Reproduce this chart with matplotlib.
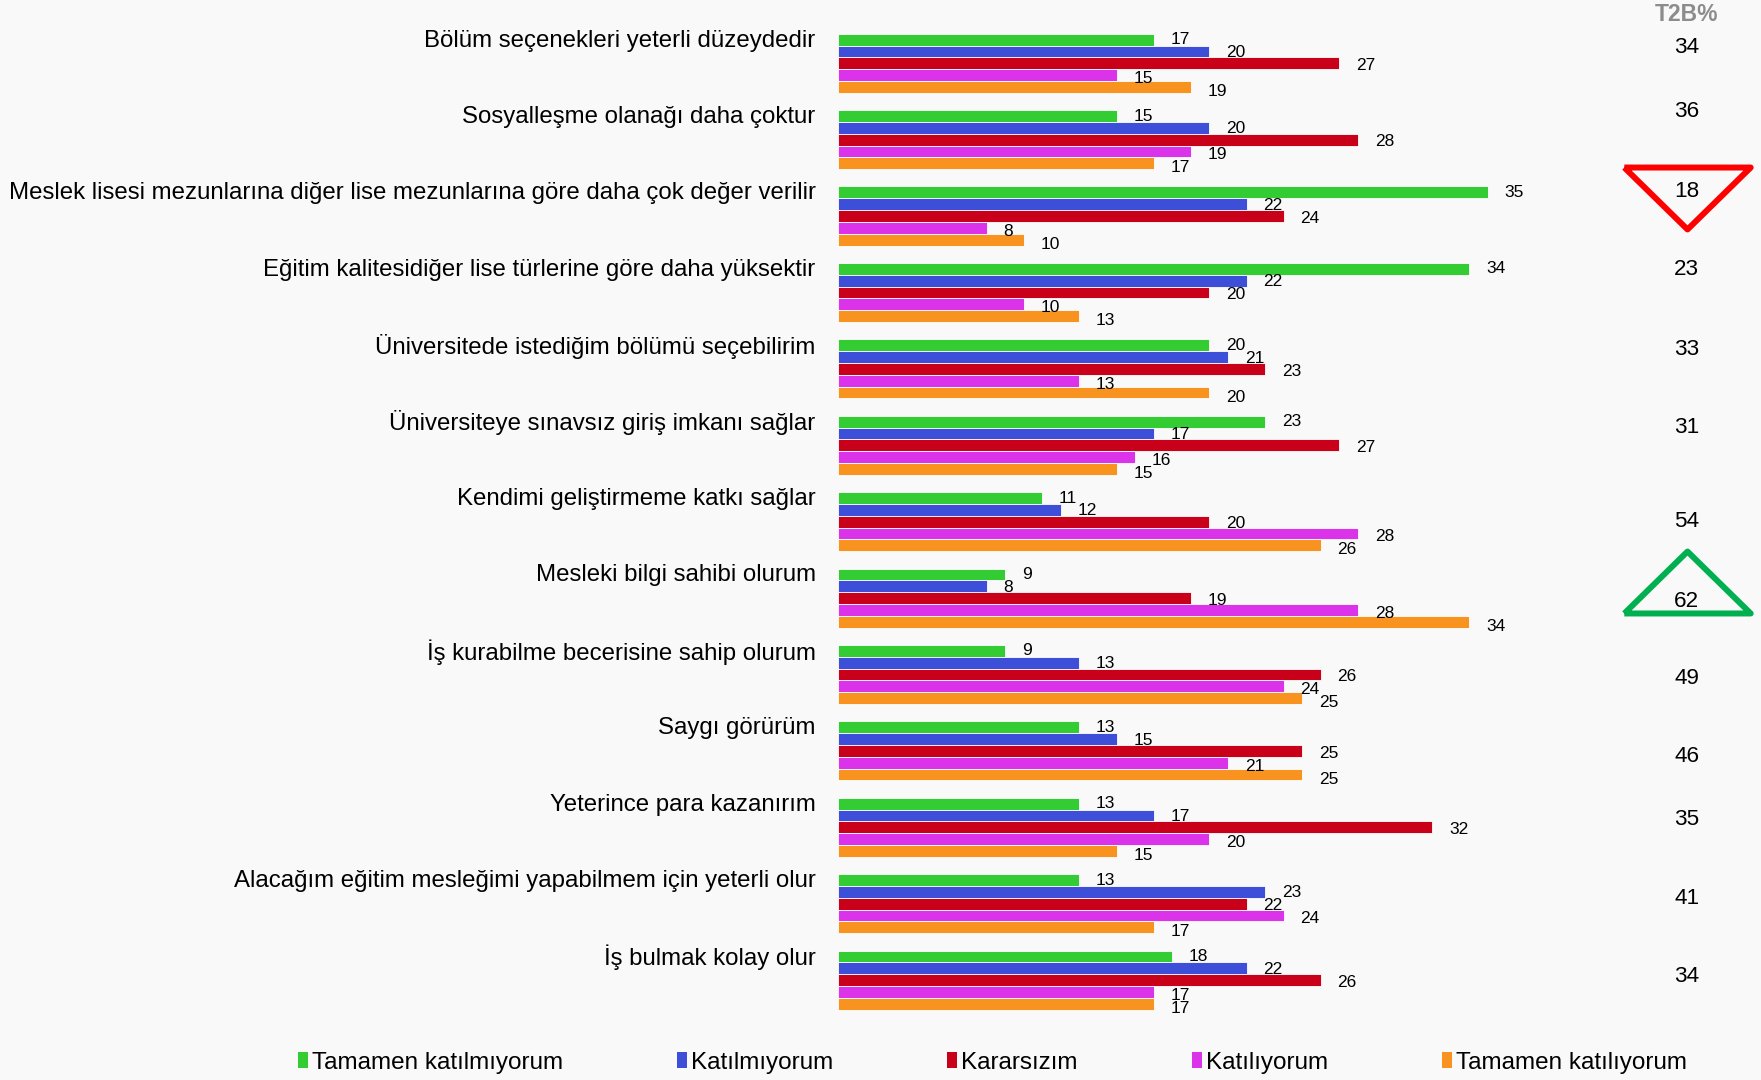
import matplotlib
matplotlib.use("Agg")
import matplotlib.pyplot as plt
from matplotlib.markers import MarkerStyle
from matplotlib.patches import Patch
import numpy as np

plt.rcParams['font.family'] = ['Liberation Sans', 'DejaVu Sans']

# data
categories = [
    "Bölüm seçenekleri yeterli düzeydedir",
    "Sosyalleşme olanağı daha çoktur",
    "Meslek lisesi mezunlarına diğer lise mezunlarına göre daha çok değer verilir",
    "Eğitim kalitesidiğer lise türlerine göre daha yüksektir",
    "Üniversitede istediğim bölümü seçebilirim",
    "Üniversiteye sınavsız giriş imkanı sağlar",
    "Kendimi geliştirmeme katkı sağlar",
    "Mesleki bilgi sahibi olurum",
    "İş kurabilme becerisine sahip olurum",
    "Saygı görürüm",
    "Yeterince para kazanırım",
    "Alacağım eğitim mesleğimi yapabilmem için yeterli olur",
    "İş bulmak kolay olur",
]
series_names = ["Tamamen katılmıyorum", "Katılmıyorum", "Kararsızım",
                "Katılıyorum", "Tamamen katılıyorum"]
tamamen_katilmiyorum = [17, 15, 35, 34, 20, 23, 11, 9, 9, 13, 13, 13, 18]
katilmiyorum = [20, 20, 22, 22, 21, 17, 12, 8, 13, 15, 17, 23, 22]
kararsizim = [27, 28, 24, 20, 23, 27, 20, 19, 26, 25, 32, 22, 26]
katiliyorum = [15, 19, 8, 10, 13, 16, 28, 28, 24, 21, 20, 24, 17]
tamamen_katiliyorum = [19, 17, 10, 13, 20, 15, 26, 34, 25, 25, 15, 17, 17]
t2b = [34, 36, 18, 23, 33, 31, 54, 62, 49, 46, 35, 41, 34]

series = [tamamen_katilmiyorum, katilmiyorum, kararsizim, katiliyorum, tamamen_katiliyorum]
colors = ["#33CC33", "#3D4FD9", "#C8001A", "#DA33E9", "#F7931E"]

# layout (style only)
t2b_dy = [0.18, 0.02, 0.06, 0.09, 0.13, 0.15, 0.38, 0.43, 0.44, 0.46, 0.29, 0.32, 0.34]
bar_h = 0.1545
t2b_x = 45.7
W, H = 1761, 1080
bg = "#F9F9F9"

fig = plt.figure(figsize=(W / 100, H / 100), dpi=100, facecolor=bg)
ax_left = 838 / W
ax = fig.add_axes([ax_left, 0, 1 - ax_left, 1])
ax.set_facecolor(bg)
ax.set_xlim(0, (W - 838) / 18.57)
ax.set_ylim((H - 33.7) / 76.4, -33.7 / 76.4)
ax.axis("off")

n = len(categories)
base = np.arange(n)
for j, (vals, col) in enumerate(zip(series, colors)):
    y = base + (j + 0.5) * bar_h
    ax.barh(y, vals, height=bar_h, color=col, edgecolor="white", linewidth=0.6)
    for yi, v in zip(y, vals):
        ax.text(v + 0.9, yi + 0.03 + 0.015 * (j - 2), str(v), ha="left", va="center",
                fontsize=12.5, color="black")

for i, cat in enumerate(categories):
    ax.text(-1.2, i + 0.09, cat, ha="right", va="center", fontsize=17.3, color="black",
            clip_on=False)

# T2B column
ax.text(t2b_x, -0.245, "T2B%", ha="center", va="center", fontsize=16.5, fontweight="bold",
        color="#8C8C8C")
for i, v in enumerate(t2b):
    ax.text(t2b_x, i + t2b_dy[i], str(v), ha="center", va="center", fontsize=16.2, color="black")

# highlight lowest and highest T2B
down_tri = MarkerStyle([(-1, 0.49), (1, 0.49), (0, -0.49), (-1, 0.49)], joinstyle="round")
up_tri = MarkerStyle([(-1, -0.49), (1, -0.49), (0, 0.49), (-1, -0.49)], joinstyle="round")
i_min = int(np.argmin(t2b))
i_max = int(np.argmax(t2b))
ax.plot([t2b_x], [i_min + 0.157], marker=down_tri, markersize=91, markerfacecolor="none",
        markeredgecolor="#FF0000", markeredgewidth=4.3, linestyle="none")
ax.plot([t2b_x], [i_max + 0.18], marker=up_tri, markersize=91, markerfacecolor="none",
        markeredgecolor="#00B050", markeredgewidth=4.3, linestyle="none")

handles = [Patch(facecolor=c, edgecolor="none", label=s) for c, s in zip(colors, series_names)]
fig.legend(handles=handles, ncol=5, loc="center", bbox_to_anchor=(0.5635, 0.016),
           frameon=False, fontsize=17.5, handlelength=0.42, handleheight=0.6,
           handletextpad=0.15, columnspacing=4.7, borderpad=0)

fig.savefig("out.png", dpi=100, facecolor=bg)
